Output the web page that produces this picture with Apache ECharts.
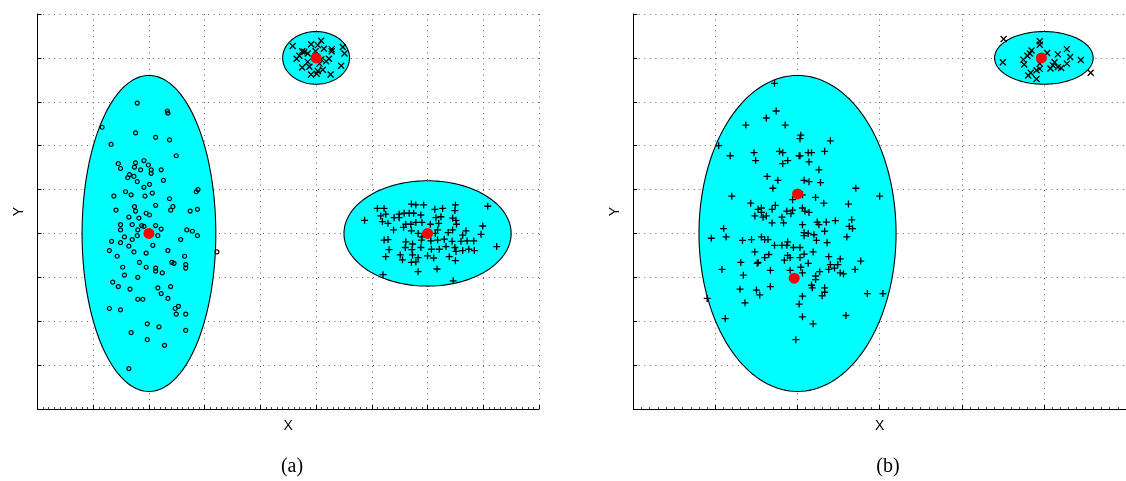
<!DOCTYPE html>
<html>
<head>
<meta charset="utf-8">
<script src="https://cdn.jsdelivr.net/npm/echarts@6/dist/echarts.min.js"></script>
<style>html,body{margin:0;padding:0;background:#fff;}#c{width:1126px;height:481px;}</style>
</head>
<body>
<div id="c"></div>
<script>
// ---------- DATA ----------
// Panel (a)
const clusterA1 = [ // circles, tall cluster
[1.79,6.97],[2.33,6.79],[2.34,6.74],[1.16,6.42],[1.76,6.29],[2.12,6.19],[2.37,6.13],[1.32,6.03],[2.49,5.77],
[1.45,5.59],[1.49,5.48],[1.76,5.61],[1.91,5.66],[1.99,5.56],[1.74,5.51],[1.85,5.45],[2.04,5.45],[2.04,5.37],
[2.22,5.45],[1.65,5.34],[1.62,5.27],[1.73,5.30],[1.79,5.18],[2.26,5.21],[2.01,5.12],[1.91,5.05],[2.85,4.95],
[2.88,5.00],[1.58,4.95],[1.68,4.88],[1.37,4.85],[1.93,4.85],[2.06,4.92],[2.37,4.79],[1.74,4.61],[2.12,4.64],
[2.43,4.61],[2.39,4.53],[1.41,4.53],[1.76,4.51],[2.74,4.51],[2.87,4.55],[1.95,4.46],[2.01,4.42],[1.64,4.37],
[1.82,4.35],[1.49,4.20],[1.70,4.20],[2.12,4.18],[1.87,4.18],[1.91,4.16],[1.49,4.08],[1.80,4.08],[2.22,4.10],
[2.68,4.08],[2.78,4.05],[2.87,3.95],[1.56,3.92],[1.70,3.86],[1.79,3.95],[2.16,3.95],[2.57,3.86],[1.33,3.82],
[1.49,3.79],[1.64,3.71],[2.07,3.73],[1.29,3.61],[1.73,3.58],[1.95,3.55],[2.34,3.61],[3.22,3.58],[1.43,3.48],
[2.64,3.48],[1.83,3.34],[2.41,3.34],[2.45,3.32],[2.66,3.29],[2.66,3.21],[1.53,3.23],[1.95,3.23],[2.12,3.21],
[2.12,3.14],[2.24,3.10],[1.56,3.05],[1.80,3.00],[1.35,2.89],[1.45,2.79],[1.66,2.73],[2.16,2.76],[2.39,2.79],
[2.22,2.63],[2.34,2.52],[1.80,2.50],[1.89,2.50],[1.29,2.29],[1.49,2.26],[2.47,2.29],[2.53,2.34],[2.49,2.16],
[2.66,2.16],[1.97,1.94],[2.18,1.87],[2.66,1.79],[1.68,1.74],[1.97,1.58],[2.28,1.45],[1.64,0.92]
];
const clusterA2 = [ // crosses, small top cluster
[4.58,8.27],[4.91,8.31],[5.09,8.39],[5.03,8.29],[5.14,8.21],[5.28,8.20],[5.28,8.15],[4.79,8.14],[4.85,8.10],
[4.70,8.05],[4.65,7.98],[4.75,8.15],[5.48,8.25],[5.51,8.10],[5.23,7.98],[5.18,7.92],[5.09,7.97],[4.85,7.91],
[5.06,7.87],[4.75,7.78],[4.88,7.80],[5.03,7.70],[5.12,7.73],[4.91,7.62],[5.01,7.64],[5.26,7.62],[5.45,7.82],
[4.99,8.15]
];
const clusterA3 = [ // pluses, right cluster
[6.10,4.57],[6.22,4.57],[6.71,4.67],[6.79,4.65],[6.93,4.65],[7.13,4.55],[7.27,4.57],[7.50,4.65],[7.49,4.52],
[8.08,4.62],[6.16,4.40],[6.25,4.44],[6.49,4.44],[6.58,4.46],[6.67,4.46],[6.75,4.46],[6.88,4.42],[7.15,4.36],
[7.24,4.38],[7.45,4.35],[7.51,4.30],[6.40,4.36],[6.49,4.36],[6.19,4.27],[6.29,4.23],[6.61,4.21],[6.70,4.21],
[6.79,4.25],[6.90,4.25],[7.05,4.21],[7.20,4.23],[7.52,4.21],[7.69,4.06],[7.99,4.17],[5.87,4.30],[6.39,4.08],
[6.57,4.14],[6.71,4.06],[6.83,4.00],[6.90,3.92],[7.14,4.00],[7.18,4.08],[7.37,4.02],[7.45,4.08],[7.63,3.96],
[7.96,3.98],[6.22,3.85],[6.29,3.86],[6.61,3.81],[6.73,3.76],[6.89,3.85],[7.06,3.83],[7.18,3.85],[7.30,3.87],
[7.44,3.82],[7.60,3.82],[7.71,3.83],[7.83,3.83],[6.31,3.63],[6.60,3.68],[6.72,3.63],[6.88,3.68],[7.07,3.64],
[7.21,3.64],[7.33,3.70],[7.49,3.68],[7.51,3.59],[7.63,3.61],[7.74,3.64],[7.84,3.61],[8.24,3.70],[6.25,3.47],
[6.51,3.51],[6.55,3.40],[6.73,3.51],[6.83,3.45],[7.00,3.49],[7.11,3.44],[7.39,3.47],[7.50,3.38],[6.71,3.34],
[6.79,3.35],[6.83,3.13],[7.17,3.19],[6.20,3.06],[7.46,2.92]
];
const ellipsesA = [[2,4,1.2,3.6],[5,8,0.6,0.6],[7,4,1.5,1.2]]; // cx, cy, semi-x, semi-y
const centersA = [[2,4],[5,8],[7,4]];

// Panel (b)
const clusterB1 = [ // pluses, big cluster
[1.72,7.42],[1.74,6.79],[1.62,6.63],[1.37,6.47],[1.85,6.47],[2.04,6.24],[2.03,6.16],[2.40,6.11],[1.04,6.00],
[1.18,5.77],[1.47,5.84],[1.49,5.66],[1.78,5.87],[1.82,5.84],[2.02,5.77],[2.03,5.77],[2.13,5.84],[2.17,5.84],
[2.33,5.87],[2.14,5.63],[1.82,5.59],[1.88,5.66],[2.26,5.45],[1.63,5.30],[1.76,5.21],[2.08,5.21],[2.14,5.18],
[2.28,5.16],[1.70,5.03],[2.71,5.03],[1.20,4.85],[2.06,4.88],[1.94,4.77],[2.22,4.82],[3.00,4.85],[1.43,4.69],
[1.73,4.64],[1.69,4.55],[1.52,4.55],[1.56,4.58],[1.56,4.48],[2.32,4.69],[2.62,4.67],[2.06,4.58],[2.09,4.51],
[2.14,4.48],[1.94,4.53],[1.87,4.51],[1.92,4.45],[1.48,4.40],[1.58,4.37],[1.62,4.40],[1.81,4.37],[2.46,4.29],
[2.66,4.31],[2.63,4.16],[2.67,4.11],[2.24,4.26],[2.26,4.20],[2.35,4.26],[2.06,4.20],[1.69,4.24],[1.83,4.24],
[1.10,4.11],[1.13,3.92],[0.95,3.89],[2.08,4.02],[2.08,3.95],[2.13,4.00],[2.20,3.97],[2.33,4.05],[2.60,3.92],
[1.33,3.84],[1.44,3.86],[1.56,3.92],[1.60,3.86],[1.64,3.86],[1.72,3.73],[1.81,3.73],[1.87,3.73],[1.88,3.81],
[1.95,3.68],[2.03,3.68],[2.23,3.84],[2.36,3.79],[1.48,3.58],[1.65,3.52],[1.60,3.45],[2.08,3.53],[2.19,3.58],
[2.38,3.47],[2.52,3.42],[1.88,3.50],[1.91,3.45],[1.84,3.39],[2.03,3.45],[2.13,3.32],[1.52,3.34],[1.51,3.32],
[1.31,3.34],[1.08,3.18],[1.34,3.05],[1.67,3.16],[1.91,3.16],[2.06,3.10],[2.04,3.23],[2.27,3.13],[2.38,3.18],
[2.45,3.21],[2.49,3.29],[2.40,3.29],[2.52,3.10],[2.56,3.08],[2.70,3.18],[2.77,3.37],[2.22,3.03],[2.22,2.95],
[2.17,2.82],[2.18,2.76],[2.30,2.58],[2.33,2.66],[2.33,2.76],[1.30,2.73],[1.50,2.71],[1.54,2.60],[1.67,2.79],
[0.90,2.52],[1.36,2.42],[2.06,2.57],[2.02,2.39],[2.85,2.63],[3.04,2.63],[1.12,2.06],[2.06,2.10],[2.19,1.94],
[2.59,2.13],[1.98,1.58]
];
const clusterB2 = [ // crosses, small cluster
[4.51,8.43],[4.95,8.38],[4.95,8.30],[4.85,8.17],[4.83,8.10],[4.80,8.05],[4.75,7.96],[4.76,7.85],[4.50,7.90],
[5.04,8.11],[5.17,8.08],[5.28,8.20],[5.32,8.02],[5.45,7.95],[5.57,7.66],[5.28,7.87],[5.13,7.90],[5.11,7.83],
[5.08,7.76],[5.17,7.79],[5.21,7.77],[4.95,7.87],[4.95,7.75],[4.91,7.72],[4.84,7.66],[4.81,7.60],[4.91,7.52]
];
const ellipsesB = [[2,4,1.2,3.6],[5,8,0.6,0.6]];
const centersB = [[2,4.9],[1.96,2.98],[4.97,8]];

const xMaxA = 9, xMaxB = 6, yMax = 9;
const labelX = 'X', labelY = 'Y';
const captions = ['(a)', '(b)'];

// ---------- CHART ----------
const chart = echarts.init(document.getElementById('c'), null, {renderer: 'canvas'});
const PLUS = 'path://M5,0L5,10M0,5L10,5';
const CROSS = 'path://M0,0L10,10M10,0L0,10';

function renderEllipse(params, api) {
  const cx = api.value(0), cy = api.value(1), a = api.value(2), b = api.value(3);
  const pts = [];
  const n = 160;
  for (let i = 0; i < n; i++) {
    const t = 2 * Math.PI * i / n;
    pts.push(api.coord([cx + a * Math.cos(t), cy + b * Math.sin(t)]));
  }
  return {type: 'polygon', shape: {points: pts},
    style: {fill: '#00ffff', stroke: '#000', lineWidth: 1.1}};
}

const dotted = {show: true, lineStyle: {color: '#666', width: 1, type: [1, 4.5]}};
function xAx(idx, max) {
  return {gridIndex: idx, type: 'value', min: 0, max: max, interval: 1,
    name: labelX, nameLocation: 'middle', nameGap: 10,
    nameTextStyle: {fontFamily: 'Liberation Sans', fontSize: 14, color: '#000', verticalAlign: 'top'},
    axisLine: {show: true, onZero: false, lineStyle: {color: '#000', width: 1}},
    axisTick: {show: true, inside: true, length: 4, lineStyle: {color: '#000'}},
    minorTick: {show: true, splitNumber: 10, length: 2, lineStyle: {color: '#444'}},
    axisLabel: {show: false}, splitLine: dotted};
}
function yAx(idx) {
  return {gridIndex: idx, type: 'value', min: 0, max: yMax, interval: 1,
    name: labelY, nameLocation: 'middle', nameGap: 11, nameRotate: 90,
    nameTextStyle: {fontFamily: 'Liberation Sans', fontSize: 14, color: '#000'},
    axisLine: {show: true, onZero: false, lineStyle: {color: '#000', width: 1}},
    axisTick: {show: true, inside: true, length: 4, lineStyle: {color: '#000'}},
    axisLabel: {show: false}, splitLine: dotted};
}
function pts(data, xi, symbol, size, bw) {
  return {type: 'scatter', xAxisIndex: xi, yAxisIndex: xi, data: data, symbol: symbol, symbolSize: size,
    itemStyle: {color: 'rgba(0,0,0,0)', borderColor: '#000', borderWidth: bw, opacity: 1},
    z: 3, silent: true, clip: false};
}
function centers(data, xi) {
  return {type: 'scatter', xAxisIndex: xi, yAxisIndex: xi, data: data, symbol: 'circle', symbolSize: 11,
    itemStyle: {color: '#ff0000', borderWidth: 0, opacity: 1}, z: 4, silent: true};
}
function ells(data, xi) {
  return {type: 'custom', xAxisIndex: xi, yAxisIndex: xi, data: data, renderItem: renderEllipse,
    encode: {x: 0, y: 1}, z: 2, clip: false, silent: true};
}

chart.setOption({
  animation: false,
  backgroundColor: '#fff',
  grid: [
    {left: 37.5, top: 14, width: 501.5, height: 395},
    {left: 633.3, top: 14, width: 500, height: 395}
  ],
  xAxis: [xAx(0, xMaxA), xAx(1, xMaxB)],
  yAxis: [yAx(0), yAx(1)],
  title: [
    {text: captions[0], left: 287, top: 452, textAlign: 'center',
      textStyle: {fontFamily: 'Liberation Serif', fontSize: 20, fontWeight: 'normal', color: '#000'}},
    {text: captions[1], left: 883, top: 452, textAlign: 'center',
      textStyle: {fontFamily: 'Liberation Serif', fontSize: 20, fontWeight: 'normal', color: '#000'}}
  ],
  series: [
    ells(ellipsesA, 0),
    pts(clusterA1, 0, 'circle', 4, 1.2),
    pts(clusterA2, 0, CROSS, 6, 1.3),
    pts(clusterA3, 0, PLUS, 7, 1.3),
    centers(centersA, 0),
    ells(ellipsesB, 1),
    pts(clusterB1, 1, PLUS, 7, 1.3),
    pts(clusterB2, 1, CROSS, 6, 1.3),
    centers(centersB, 1)
  ]
});
</script>
</body>
</html>
